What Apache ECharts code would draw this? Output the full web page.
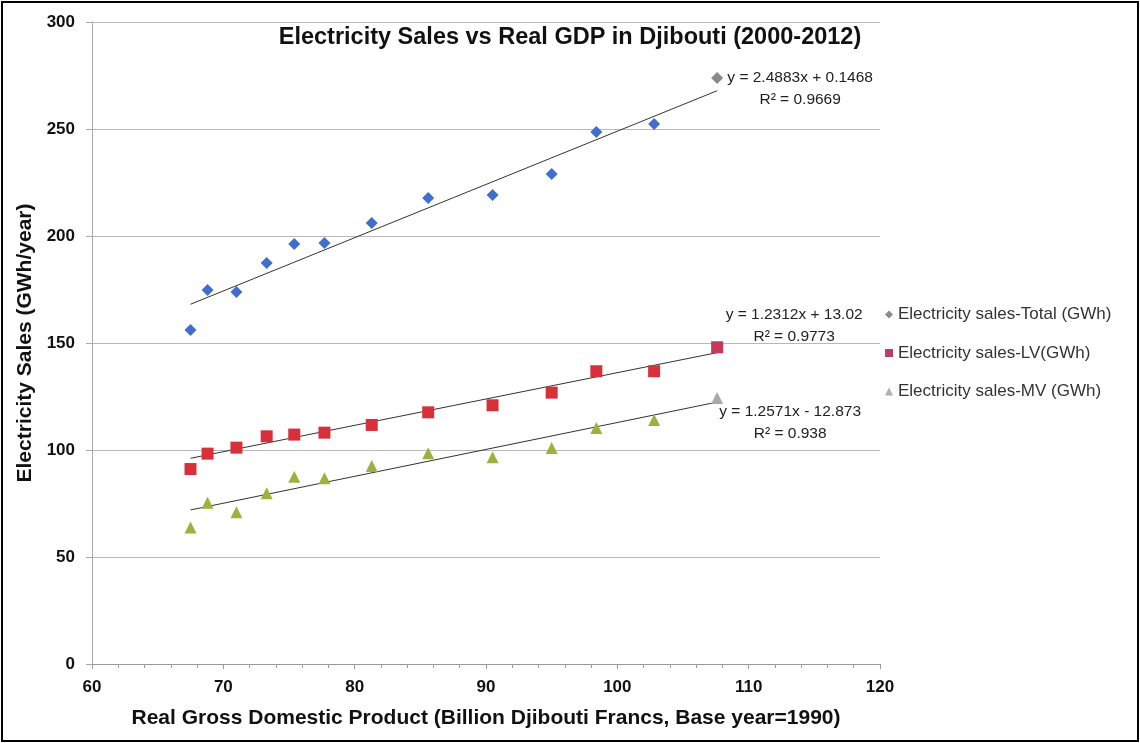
<!DOCTYPE html>
<html>
<head>
<meta charset="utf-8">
<script src="https://cdn.jsdelivr.net/npm/echarts@6/dist/echarts.min.js"></script>
<style>
html,body{margin:0;padding:0;background:#fff;}
#chart{width:1140px;height:743px;}
</style>
</head>
<body>
<div id="chart"></div>
<script>
// ---- Data ----
var gdp = [67.5, 68.8, 71.0, 73.3, 75.4, 77.7, 81.3, 85.6, 90.5, 95.0, 98.4, 102.8, 107.6];
var salesTotal = [156.1, 174.8, 173.8, 187.4, 196.3, 196.7, 206.1, 217.8, 219.2, 229.0, 248.6, 252.3, 273.8];
var salesLV = [91.1, 98.3, 101.1, 106.4, 107.2, 108.1, 111.7, 117.6, 120.9, 126.8, 136.8, 136.8, 148.0];
var salesMV = [63.8, 75.4, 70.9, 79.8, 87.5, 86.8, 92.5, 98.5, 96.6, 100.9, 110.3, 114.0, 124.3];
var seriesNames = ['Electricity sales-Total (GWh)', 'Electricity sales-LV(GWh)', 'Electricity sales-MV (GWh)'];
// trendline coefficients [slope, intercept, R2] as printed on the chart
var trendTotal = [2.4883, 0.1468, 0.9669];
var trendLV = [1.2312, 13.02, 0.9773];
var trendMV = [1.2571, -12.873, 0.938];
var trendText = ['y = 2.4883x + 0.1468', 'y = 1.2312x + 13.02', 'y = 1.2571x - 12.873'];
var r2Text = ['R\u00b2 = 0.9669', 'R\u00b2 = 0.9773', 'R\u00b2 = 0.938'];
var xTicks = [60, 70, 80, 90, 100, 110, 120];
var yTicks = [0, 50, 100, 150, 200, 250, 300];

// ---- Styles ----
var colors = ['#3f6fcb', '#d8303b', '#9ab33e'];
var lastColors = ['#8a8a8a', '#c8385a', '#a8a8a8'];
var legendIconColors = ['#8c8c8c', '#b8406a', '#b0b0b0'];
var symbols = ['diamond', 'rect', 'triangle'];
var symbolSizes = [12, 12, 12];
var labelOffsets = [[83, -2], [77, -27], [73, 21]];

function pts(ys, idx) {
  return gdp.map(function (x, i) {
    var d = { value: [x, ys[i]] };
    if (i === gdp.length - 1) d.itemStyle = { color: lastColors[idx] };
    return d;
  });
}
function trend(c) {
  var x0 = Math.min.apply(null, gdp), x1 = Math.max.apply(null, gdp);
  return [[x0, c[0] * x0 + c[1]], [x1, c[0] * x1 + c[1]]];
}

var scatterData = [salesTotal, salesLV, salesMV];
var trends = [trendTotal, trendLV, trendMV];
var series = [];
for (var k = 0; k < 3; k++) {
  series.push({
    name: seriesNames[k], type: 'scatter', symbol: symbols[k], symbolSize: symbolSizes[k],
    itemStyle: { color: colors[k], opacity: 1 }, data: pts(scatterData[k], k), z: 3
  });
}
for (var k = 0; k < 3; k++) {
  (function (k) {
    series.push({
      name: 'trend' + k, type: 'line', data: trend(trends[k]), showSymbol: false, symbol: 'none',
      lineStyle: { color: '#333', width: 1 }, z: 2, silent: true,
      endLabel: {
        show: true, formatter: trendText[k] + '\n' + r2Text[k], offset: labelOffsets[k],
        align: 'center', verticalAlign: 'middle', distance: 0,
        color: '#222', fontSize: 15.5, lineHeight: 22, fontFamily: 'Liberation Sans'
      }
    });
  })(k);
}

var chart = echarts.init(document.getElementById('chart'), null, { renderer: 'canvas' });
chart.setOption({
  animation: false,
  backgroundColor: '#fff',
  title: {
    text: 'Electricity Sales vs Real GDP in Djibouti (2000-2012)', left: 'center', top: 21,
    textStyle: { fontFamily: 'Liberation Sans', fontWeight: 'bold', fontSize: 23.5, color: '#111' }
  },
  grid: { left: 92, right: 260, top: 22, bottom: 79, containLabel: false },
  legend: {
    orient: 'vertical', left: 880, top: 301, itemGap: 21.5, itemWidth: 8, itemHeight: 8,
    textStyle: { fontFamily: 'Liberation Sans', fontSize: 17, color: '#333', lineHeight: 17 },
    data: seriesNames.map(function (n, i) {
      return { name: n, icon: symbols[i], itemStyle: { color: legendIconColors[i] } };
    })
  },
  xAxis: {
    type: 'value', min: xTicks[0], max: xTicks[xTicks.length - 1], interval: 10,
    name: 'Real Gross Domestic Product (Billion Djibouti Francs, Base year=1990)',
    nameLocation: 'middle', nameGap: 44,
    nameTextStyle: { fontFamily: 'Liberation Sans', fontWeight: 'bold', fontSize: 21, color: '#111' },
    axisLine: { show: true, onZero: false, lineStyle: { color: '#9a9a9a', width: 1 } },
    axisTick: { show: true, inside: false, length: 5, lineStyle: { color: '#9a9a9a' } },
    minorTick: { show: true, splitNumber: 5, length: 4, lineStyle: { color: '#9a9a9a' } },
    splitLine: { show: false },
    axisLabel: { margin: 15, fontFamily: 'Liberation Sans', fontWeight: 'bold', fontSize: 17, color: '#111' }
  },
  yAxis: {
    type: 'value', min: yTicks[0], max: yTicks[yTicks.length - 1], interval: 50,
    name: 'Electricity Sales (GWh/year)', nameLocation: 'middle', nameGap: 50,
    nameTextStyle: { fontFamily: 'Liberation Sans', fontWeight: 'bold', fontSize: 21, color: '#111' },
    axisLine: { show: true, lineStyle: { color: '#a8a8a8', width: 1 } },
    axisTick: { show: true, length: 6, lineStyle: { color: '#a8a8a8' } },
    splitLine: { show: true, lineStyle: { color: '#b8b8b8', width: 1 } },
    axisLabel: { margin: 17, fontFamily: 'Liberation Sans', fontWeight: 'bold', fontSize: 17, color: '#111' }
  },
  graphic: [{
    type: 'rect', shape: { x: 2, y: 2, width: 1136, height: 739 },
    style: { fill: 'none', stroke: '#000', lineWidth: 2 }, silent: true, z: 100
  }],
  series: series
});
</script>
</body>
</html>
